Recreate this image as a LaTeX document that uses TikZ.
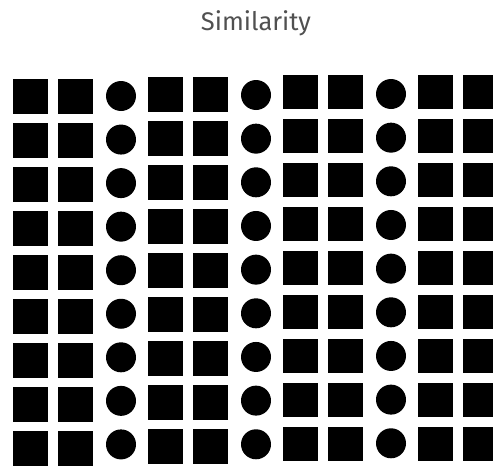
\documentclass[tikz,border=0pt]{standalone}
\usepackage{fontspec}
\setmainfont{Fira Sans}
\definecolor{titlegray}{HTML}{505050}
\tikzset{
  sqshape/.style={fill=black},
  cishape/.style={fill=black},
  titletext/.style={anchor=base, text=titlegray, inner sep=0pt, font=\fontsize{25.5}{30}\selectfont}
}
\begin{document}
\begin{tikzpicture}[x=1pt,y=-1pt]
\useasboundingbox (0,0) rectangle (493,466);
\clip (0,0) rectangle (493,466);
\node[titletext] (title) at (256,30.7) {Similarity};
\foreach \x/\t in {13.3/79, 58.3/79, 148.3/77, 193.3/77, 283.3/74.7, 328.3/74.7, 418.3/74.7, 463.3/74.7}{
  \foreach \r in {0,...,8}{
    \fill[sqshape] (\x,{\t+44*\r}) rectangle ++(35,34.6);
  }
}
\foreach \x/\t/\p in {121/96/43.55, 256/95/43.66, 391/94/43.66}{
  \foreach \r in {0,...,8}{
    \fill[cishape] (\x,{\t+\p*\r}) circle (15);
  }
}
\end{tikzpicture}
\end{document}
